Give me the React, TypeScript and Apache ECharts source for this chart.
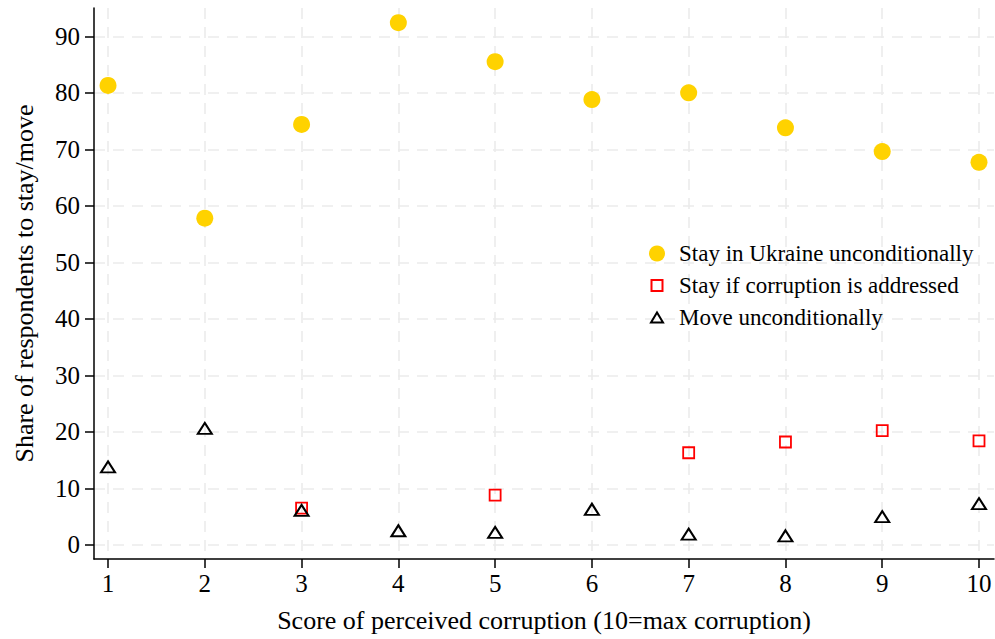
import React, { useEffect, useRef } from "react";
import * as echarts from "echarts";

const xValues = [1, 2, 3, 4, 5, 6, 7, 8, 9, 10];
const stayUnconditionally = [81.3, 57.8, 74.4, 92.4, 85.5, 78.8, 80.0, 73.8, 69.6, 67.7];
const stayIfAddressed = [null, null, 6.5, null, 8.8, null, 16.3, 18.2, 20.2, 18.4];
const moveUnconditionally = [13.8, 20.6, 6.1, 2.5, 2.2, 6.3, 1.9, 1.6, 5.0, 7.3];
const xTicks = [1, 2, 3, 4, 5, 6, 7, 8, 9, 10];
const yTicks = [0, 10, 20, 30, 40, 50, 60, 70, 80, 90];

const seriesNames = [
  "Stay in Ukraine unconditionally",
  "Stay if corruption is addressed",
  "Move unconditionally",
];

const FONT = "'Liberation Serif', 'Times New Roman', serif";

function pairs(ys: (number | null)[]) {
  return xValues
    .map((x, i) => [x, ys[i]])
    .filter((p) => p[1] !== null && p[1] !== undefined);
}

export default function App() {
  const ref = useRef<HTMLDivElement>(null);

  useEffect(() => {
    if (!ref.current) return;
    const chart = echarts.init(ref.current, null, { renderer: "svg" });
    const gridLine = {
      show: true,
      lineStyle: { color: "#ebebeb", width: 1.6, type: [11, 8] as any },
    };
    chart.setOption({
      animation: false,
      backgroundColor: "#ffffff",
      grid: { left: 94, right: 1, top: 8, bottom: 80, containLabel: false },
      xAxis: {
        type: "value",
        min: 0.855,
        max: 10.155,
        name: "Score of perceived corruption (10=max corruption)",
        nameLocation: "middle",
        nameGap: 48,
        nameTextStyle: { fontFamily: FONT, fontSize: 26, color: "#000" },
        axisLine: { show: true, onZero: false, lineStyle: { color: "#000", width: 1.5 } },
        axisTick: {
          show: true,
          customValues: xTicks,
          length: 9,
          lineStyle: { color: "#000", width: 1.5 },
        },
        axisLabel: {
          customValues: xTicks,
          fontFamily: FONT,
          fontSize: 25,
          color: "#000",
          margin: 12,
        },
        splitLine: gridLine,
      },
      yAxis: {
        type: "value",
        min: -2.5,
        max: 95,
        name: "Share of respondents to stay/move",
        nameLocation: "middle",
        nameGap: 57,
        nameTextStyle: { fontFamily: FONT, fontSize: 26, color: "#000" },
        axisLine: { show: true, onZero: false, lineStyle: { color: "#000", width: 1.5 } },
        axisTick: {
          show: true,
          customValues: yTicks,
          length: 9,
          lineStyle: { color: "#000", width: 1.5 },
        },
        axisLabel: {
          customValues: yTicks,
          fontFamily: FONT,
          fontSize: 25,
          color: "#000",
          margin: 14,
        },
        splitLine: gridLine,
      },
      legend: {
        orient: "vertical",
        left: 648,
        top: 242,
        padding: 0,
        itemWidth: 34,
        itemHeight: 16,
        itemGap: 9,
        symbolKeepAspect: true,
        textStyle: { fontFamily: FONT, fontSize: 23, color: "#000", lineHeight: 18 },
        data: [
          { name: seriesNames[0], icon: "circle" },
          {
            name: seriesNames[1],
            icon: "path://M0,0M16,16M2.5,2.5L13.5,2.5L13.5,13.5L2.5,13.5Z",
          },
          {
            name: seriesNames[2],
            icon: "path://M0,0M16,16M2,13L8,3L14,13Z",
          },
        ],
      },
      series: [
        {
          name: seriesNames[0],
          type: "scatter",
          symbol: "circle",
          symbolSize: 17,
          data: pairs(stayUnconditionally),
          itemStyle: { color: "#ffd200", opacity: 1 },
          z: 2,
        },
        {
          name: seriesNames[1],
          type: "scatter",
          symbol: "rect",
          symbolSize: 11,
          data: pairs(stayIfAddressed),
          itemStyle: { color: "rgba(0,0,0,0)", borderColor: "#ff0000", borderWidth: 1.8, opacity: 1 },
          z: 3,
        },
        {
          name: seriesNames[2],
          type: "scatter",
          symbol: "triangle",
          symbolSize: [14, 11],
          data: pairs(moveUnconditionally),
          itemStyle: { color: "rgba(0,0,0,0)", borderColor: "#000000", borderWidth: 2, opacity: 1 },
          z: 4,
        },
      ],
    });
    return () => chart.dispose();
  }, []);

  return (
    <div
      ref={ref}
      style={{ position: "fixed", left: 0, top: 0, width: 995, height: 639, background: "#fff" }}
    />
  );
}
